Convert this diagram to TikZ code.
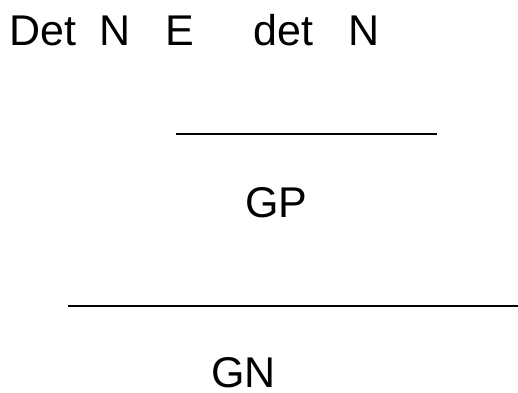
\documentclass[tikz,border=0pt]{standalone}
\usepackage{fontspec}
\setmainfont{Liberation Sans}
\begin{document}
\begin{tikzpicture}[x=1pt,y=1pt,
  word/.style={anchor=base west,inner sep=0pt,text depth=0pt,font=\fontsize{43}{50}\selectfont},
  rule/.style={line width=2.4pt}]
\useasboundingbox (0,0) rectangle (518,392);
\node[word] (det1) at (9,347) {Det};
\node[word] (n1) at (99,347) {N};
\node[word] (e) at (165,347) {E};
\node[word] (det2) at (253,347) {det};
\node[word] (n2) at (348,347) {N};
\coordinate (l1a) at (176,258);
\coordinate (l1b) at (437,258);
\draw[rule] (l1a) -- (l1b);
\node[word] (gp) at (245,175) {GP};
\coordinate (l2a) at (68,86);
\coordinate (l2b) at (520,86);
\draw[rule] (l2a) -- (l2b);
\node[word] (gn) at (211,5) {GN};
\end{tikzpicture}
\end{document}
